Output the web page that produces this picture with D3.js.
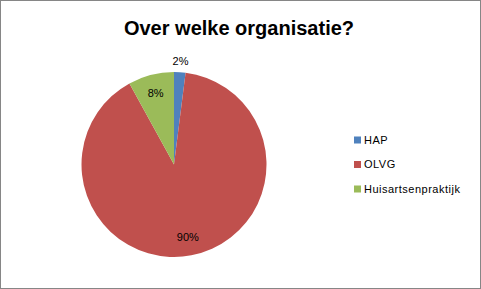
<!doctype html>
<html lang='nl'>
<head>
    <meta charset='UTF-8'>
    <title>Over welke organisatie?</title>
    <script src='https://cdn.jsdelivr.net/npm/d3@7/dist/d3.min.js'></script>
    <style>
        html, body { margin: 0; padding: 0; background: #fff; }
        text { font-family: 'Liberation Sans', Arial, sans-serif; }
    </style>
</head>
<body>
    <div id='chart'></div>
    <script>
        // data
        const categories = ['HAP', 'OLVG', 'Huisartsenpraktijk'];
        const values = [2, 90, 8];
        const colors = ['#4F81BD', '#C0504D', '#9BBB59'];
        const title = 'Over welke organisatie?';

        const W = 481, H = 289;
        const cx = 174, cy = 164.5, R = 92.5;

        const svg = d3.select('#chart').append('svg')
            .attr('width', W).attr('height', H);

        // chart border
        svg.append('rect')
            .attr('x', 0.5).attr('y', 0.5)
            .attr('width', W - 1).attr('height', H - 1)
            .attr('fill', '#fff')
            .attr('stroke', '#868686');

        svg.append('text')
            .attr('x', 239).attr('y', 35)
            .attr('text-anchor', 'middle')
            .attr('font-size', 20)
            .attr('font-weight', 'bold')
            .attr('fill', '#000')
            .text(title);

        const pie = d3.pie().sort(null).value(d => d);
        const arcs = pie(values);
        const arc = d3.arc().innerRadius(0).outerRadius(R);

        const g = svg.append('g').attr('transform', 'translate(' + cx + ',' + cy + ')');
        g.selectAll('path').data(arcs).enter().append('path')
            .attr('d', arc)
            .attr('fill', (d, i) => colors[i]);

        // labels: small slices outside, others inside
        g.selectAll('text.lbl').data(arcs).enter().append('text')
            .attr('class', 'lbl')
            .attr('transform', d => {
                const r = d.data < 5 ? R * 1.12 : R * 0.8;
                const c = d3.arc().innerRadius(r).outerRadius(r).centroid(d);
                return 'translate(' + c[0] + ',' + c[1] + ')';
            })
            .attr('dy', '0.35em')
            .attr('text-anchor', 'middle')
            .attr('font-size', 11)
            .attr('fill', '#000')
            .text(d => d.data + '%');

        // legend
        const legY = d3.scalePoint().domain(categories).range([140, 189]);
        const leg = svg.append('g');
        leg.selectAll('rect').data(categories).enter().append('rect')
            .attr('x', 354).attr('y', d => legY(d) - 3.5)
            .attr('width', 7).attr('height', 7)
            .attr('fill', (d, i) => colors[i]);
        leg.selectAll('text').data(categories).enter().append('text')
            .attr('x', 364).attr('y', d => legY(d))
            .attr('dy', '0.35em')
            .attr('font-size', 11)
            .attr('letter-spacing', 0.5)
            .attr('fill', '#000')
            .text(d => d);
    </script>
</body>
</html>
